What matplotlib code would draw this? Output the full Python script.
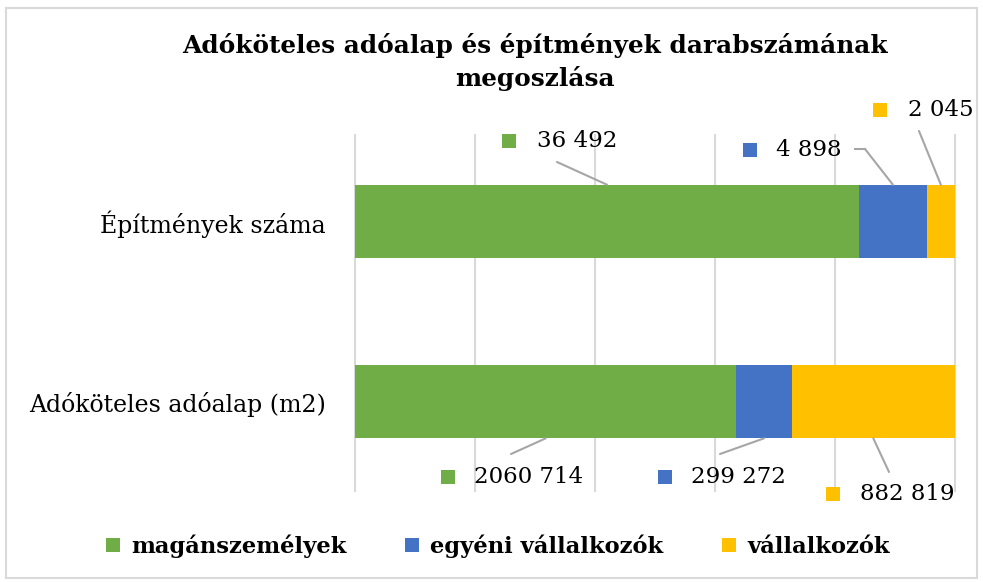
import matplotlib.pyplot as plt
from matplotlib.patches import Rectangle
from matplotlib.lines import Line2D

# Data
categories = ['Adóköteles adóalap (m2)', 'Építmények száma']
series = ['magánszemélyek', 'egyéni vállalkozók', 'vállalkozók']
maganszemelyek = [2060714, 36492]
egyeni_vallalkozok = [299272, 4898]
vallalkozok = [882819, 2045]
value_labels = [['2060 714', '36 492'], ['299 272', '4 898'], ['882 819', '2 045']]

colors = ['#70AD47', '#4472C4', '#FFC000']
W, H = 983, 582

plt.rcParams['font.family'] = ['DejaVu Serif']

fig = plt.figure(figsize=(W / 100, H / 100), dpi=100)

def fx(px):
    return px / W

def fy(py):
    return 1 - py / H

# axes placed in pixels: x 355..955, y 135..491
ax = fig.add_axes([fx(355), fy(491), fx(955) - fx(355), fy(135) - fy(491)])

values = [maganszemelyek, egyeni_vallalkozok, vallalkozok]
totals = [sum(v[i] for v in values) for i in range(len(categories))]
shares = [[v[i] / totals[i] for i in range(len(categories))] for v in values]

ypos = [0, 1]
bar_h = 0.405
left = [0.0, 0.0]
centers = []
for s, name in enumerate(series):
    ax.barh(ypos, shares[s], left=left, height=bar_h, color=colors[s], label=name, zorder=3)
    centers.append([left[i] + shares[s][i] / 2 for i in range(len(categories))])
    left = [left[i] + shares[s][i] for i in range(len(categories))]

ax.set_xlim(0, 1)
ax.set_ylim(-0.494, 1.478)
ax.set_xticks([0, 0.2, 0.4, 0.6, 0.8, 1.0])
ax.set_xticklabels([])
ax.grid(axis='x', color='#D9D9D9', lw=1.5, zorder=0)
for gl in ax.get_xgridlines():
    gl.set_clip_on(False)
ax.tick_params(axis='x', length=0)
ax.set_yticks(ypos)
ax.set_yticklabels(categories, fontsize=17)
ax.tick_params(axis='y', length=0, pad=21)
for sp in ax.spines.values():
    sp.set_visible(False)

# data labels: (series, category): square x, text left x, y, leader start
label_layout = {
    (0, 1): (509, 537, 141, [(557, 162)]),
    (1, 1): (750, 776, 150, [(855, 149), (865, 149)]),
    (2, 1): (880, 908, 110, [(919, 131)]),
    (0, 0): (448, 474, 477, [(511, 454)]),
    (1, 0): (665, 691, 477, [(720, 454)]),
    (2, 0): (833, 860, 494, [(889, 472)]),
}
sq = 14
for (s, c), (sx, tx, ty, pts) in label_layout.items():
    fig.add_artist(Rectangle((fx(sx - sq / 2), fy(ty + sq / 2)), sq / W, sq / H,
                             transform=fig.transFigure, color=colors[s], lw=0))
    fig.text(fx(tx), fy(ty), value_labels[s][c], fontsize=16.5, va='center', ha='left')
    edge = c + bar_h / 2 if c == 1 else c - bar_h / 2
    if len(pts) > 1:
        fig.add_artist(Line2D([fx(p[0]) for p in pts], [fy(p[1]) for p in pts],
                              transform=fig.transFigure, color='#A6A6A6', lw=1.5))
    start = pts[-1]
    ax.annotate('', xy=(centers[s][c], edge), xycoords='data',
                xytext=(start[0], H - start[1]), textcoords='figure pixels',
                arrowprops=dict(arrowstyle='-', color='#A6A6A6', lw=1.5,
                                shrinkA=0, shrinkB=0))

fig.text(fx(535), fy(62), 'Adóköteles adóalap és építmények darabszámának\nmegoszlása',
         ha='center', va='center', fontsize=17.8, fontweight='bold', linespacing=1.4)

leg = fig.legend(loc='center', bbox_to_anchor=(fx(498), fy(546)), ncol=3, frameon=False,
                 prop={'weight': 'bold', 'size': 16.3}, handlelength=0.6, handleheight=0.6,
                 handletextpad=0.5, columnspacing=2.6)

fig.add_artist(Rectangle((fx(6), fy(578)), (W - 12) / W, (H - 12) / H, transform=fig.transFigure,
                         fill=False, edgecolor='#D9D9D9', lw=1.5))

fig.savefig('out.png', dpi=100)
